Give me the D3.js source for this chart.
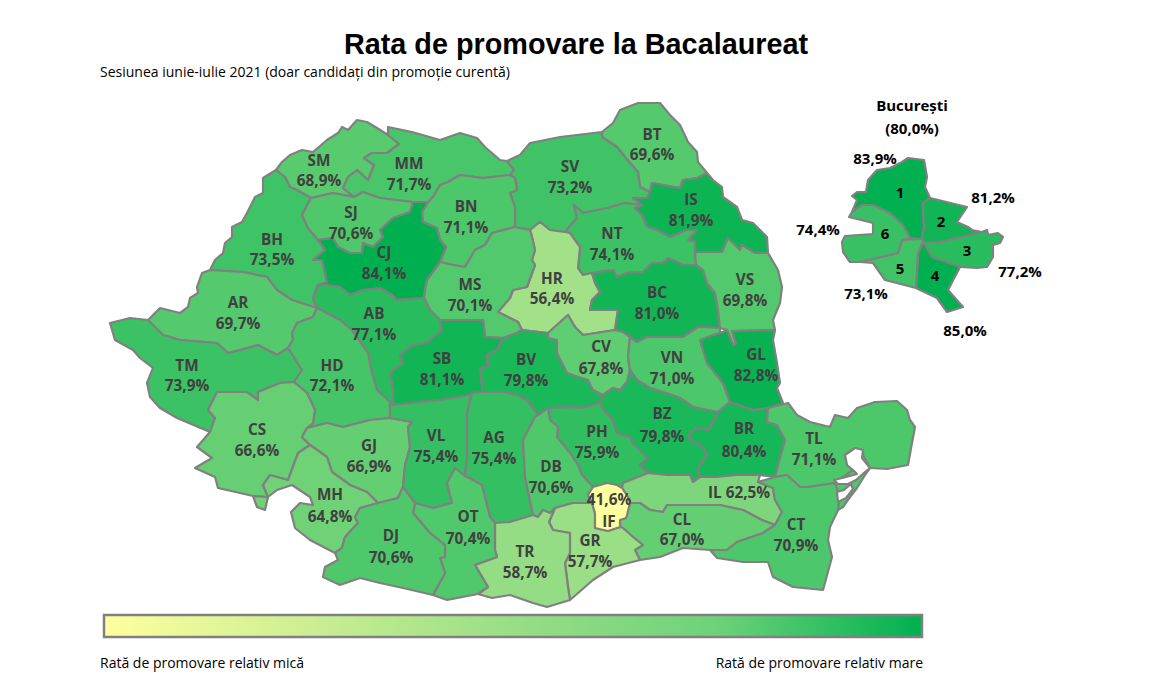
<!DOCTYPE html>
<html>
<head>
<meta charset="utf-8">
<script src="https://cdn.jsdelivr.net/npm/d3@7"></script>
<style>
    body { margin: 0; background: #fff; }
    .county { stroke: #808080; stroke-width: 2.2; stroke-linejoin: round; }
    .code, .rate { font-family: "Open Sans", sans-serif; font-weight: 700; font-size: 15.3px; fill: #404040; text-anchor: middle; dominant-baseline: central; }
    .sector-text { font-family: "Open Sans", sans-serif; font-weight: 700; font-size: 15px; fill: #000; text-anchor: middle; dominant-baseline: central; }
    .note { font-family: "Open Sans", sans-serif; font-size: 14px; fill: #000; }
</style>
</head>
<body>
<svg id="chart" width="1171" height="695"></svg>
<script>
const titleText = "Rata de promovare la Bacalaureat";
const subtitleText = "Sesiunea iunie-iulie 2021 (doar candidați din promoție curentă)";
const legendLow = "Rată de promovare relativ mică";
const legendHigh = "Rată de promovare relativ mare";

const countyCodes = ["BT","SM","MM","SV","IS","BH","SJ","BN","CJ","NT","HR","MS","BC","VS","AR","AB","TM","HD","SB","BV","CV","VN","GL","CS","GJ","VL","AG","PH","DB","BZ","BR","TL","MH","IL","CL","CT","GR","TR","OT","DJ","IF"];
const countyRates = [69.6,68.9,71.7,73.2,81.9,73.5,70.6,71.1,84.1,74.1,56.4,70.1,81.0,69.8,69.7,77.1,73.9,72.1,81.1,79.8,67.8,71.0,82.8,66.6,66.9,75.4,75.4,75.9,70.6,79.8,80.4,71.1,64.8,62.5,67.0,70.9,57.7,58.7,70.4,70.6,41.6];

const sectorNames = ["1","2","3","4","5","6"];
const sectorRates = [83.9,81.2,77.2,85.0,73.1,74.4];
const capitalName = "București";
const capitalRate = 80.0;

const colorDomain = [41.6, 58, 84.1];
const colorRange = ["#ffff9f", "#98de85", "#00b050"];
const legendColors = ["#ffff9f", "#98de85", "#6dd27a", "#00b050"];
const legendOffsets = [0, 0.5, 0.75, 1];

// county outlines
const countyOutlines = {
    BT: [[602,132],[613,123],[620,110],[638,103],[660,103],[670,115],[680,125],[688,142],[697,152],[698,162],[707,173],[697,178],[683,180],[680,188],[652,183],[650,192],[640,187],[638,172],[630,163],[617,147],[602,137]],
    SM: [[276,170],[282,162],[290,155],[302,150],[313,152],[327,140],[338,133],[342,127],[348,130],[357,120],[367,122],[377,128],[388,135],[399,144],[387,153],[372,153],[364,158],[374,165],[368,180],[357,170],[348,177],[343,188],[354,197],[333,193],[311,198],[297,190],[290,187],[285,177]],
    MM: [[388,135],[388,127],[412,132],[440,140],[460,133],[477,138],[485,147],[500,160],[507,161],[514,170],[510,175],[483,178],[460,175],[448,182],[440,185],[433,197],[428,202],[413,202],[380,198],[363,192],[354,197],[343,188],[348,177],[357,170],[368,180],[374,165],[364,158],[372,153],[387,153],[399,144]],
    SV: [[507,161],[520,155],[530,143],[560,137],[602,132],[602,137],[617,147],[630,163],[638,172],[640,187],[650,192],[647,198],[633,198],[642,205],[625,203],[607,208],[583,213],[574,205],[577,218],[565,232],[550,230],[540,222],[530,230],[515,227],[515,207],[510,193],[517,190],[515,178],[510,175],[514,170]],
    IS: [[707,173],[713,180],[722,187],[723,197],[737,207],[742,220],[753,223],[767,237],[768,253],[755,253],[742,245],[740,250],[728,238],[722,252],[695,252],[695,242],[688,240],[697,230],[687,230],[670,237],[657,230],[647,227],[642,215],[635,208],[642,205],[633,198],[647,198],[650,192],[652,183],[680,188],[683,180],[697,178]],
    BH: [[276,170],[263,178],[263,193],[255,197],[247,213],[242,222],[232,227],[232,237],[225,243],[223,253],[215,260],[210,270],[243,272],[267,277],[277,290],[292,300],[317,308],[313,298],[318,285],[327,282],[322,260],[313,260],[325,250],[318,240],[308,228],[302,215],[311,198],[297,190],[290,187],[285,177]],
    SJ: [[311,198],[333,193],[354,197],[363,192],[380,198],[413,202],[410,212],[393,218],[380,230],[383,237],[373,247],[363,243],[362,253],[350,253],[338,247],[333,238],[318,240],[308,228],[302,215]],
    BN: [[510,175],[515,178],[517,190],[510,193],[515,207],[515,227],[492,233],[485,245],[475,250],[465,267],[453,265],[440,262],[446,247],[440,240],[437,228],[423,222],[422,212],[428,202],[433,197],[440,185],[448,182],[460,175],[483,178]],
    CJ: [[413,202],[428,202],[422,212],[423,222],[437,228],[440,240],[446,247],[440,262],[427,280],[425,290],[424,298],[397,300],[392,295],[380,288],[363,290],[350,295],[340,287],[327,285],[318,285],[327,282],[322,260],[313,260],[325,250],[318,240],[333,238],[338,247],[350,253],[362,253],[363,243],[373,247],[383,237],[380,230],[393,218],[410,212]],
    NT: [[574,205],[583,213],[607,208],[625,203],[642,205],[635,208],[642,215],[647,227],[657,230],[670,237],[687,230],[697,230],[688,240],[695,242],[695,252],[696,265],[683,265],[668,258],[663,263],[652,263],[643,272],[627,273],[617,277],[613,270],[592,273],[583,275],[578,268],[580,247],[570,233],[565,232],[577,218]],
    HR: [[530,230],[540,222],[550,230],[565,232],[570,233],[580,247],[578,268],[583,275],[592,273],[595,283],[600,292],[592,300],[590,310],[618,310],[615,330],[583,335],[575,327],[568,315],[548,333],[522,330],[518,322],[498,312],[510,298],[513,290],[527,287],[535,265],[532,260],[535,250],[532,237]],
    MS: [[440,262],[453,265],[465,267],[475,250],[485,245],[492,233],[515,227],[530,230],[532,237],[535,250],[532,260],[535,265],[527,287],[513,290],[510,298],[498,312],[518,322],[522,330],[517,333],[503,338],[485,337],[483,320],[440,320],[430,310],[424,298],[425,290],[427,280]],
    BC: [[592,273],[613,270],[617,277],[627,273],[643,272],[652,263],[663,263],[668,258],[683,265],[696,265],[703,270],[707,283],[715,293],[718,310],[720,328],[698,327],[683,337],[647,337],[637,342],[630,337],[623,332],[615,330],[618,310],[590,310],[592,300],[600,292],[595,283]],
    VS: [[696,265],[695,252],[722,252],[728,238],[740,250],[742,245],[755,253],[768,253],[778,270],[782,287],[780,303],[773,320],[775,330],[732,331],[736,344],[733,345],[727,330],[720,328],[718,310],[715,293],[707,283],[703,270]],
    AR: [[210,270],[202,273],[197,287],[198,293],[190,298],[188,307],[180,313],[160,308],[148,320],[163,335],[180,340],[217,343],[228,353],[240,350],[258,345],[277,355],[288,348],[293,340],[292,333],[297,323],[313,317],[317,308],[292,300],[277,290],[267,277],[243,272]],
    AB: [[318,285],[327,285],[340,287],[350,295],[363,290],[380,288],[392,295],[397,300],[424,298],[430,310],[440,320],[442,330],[427,343],[413,345],[400,355],[403,363],[390,373],[393,390],[393,405],[390,402],[377,390],[372,373],[368,353],[352,330],[340,320],[317,308],[313,298]],
    TM: [[148,320],[130,318],[110,323],[115,340],[133,350],[140,358],[153,368],[147,383],[150,397],[160,408],[177,418],[210,432],[215,418],[208,410],[217,392],[233,392],[247,392],[258,400],[258,392],[280,383],[294,382],[302,370],[297,362],[288,348],[277,355],[258,345],[240,350],[228,353],[217,343],[180,340],[163,335]],
    HD: [[317,308],[340,320],[352,330],[368,353],[372,373],[377,390],[390,402],[390,418],[370,420],[343,427],[327,423],[307,428],[313,423],[315,410],[307,393],[294,382],[302,370],[297,362],[288,348],[293,340],[292,333],[297,323],[313,317]],
    SB: [[440,320],[483,320],[485,337],[503,338],[497,350],[487,355],[488,367],[480,368],[483,392],[470,395],[440,400],[420,402],[393,405],[393,390],[390,373],[403,363],[400,355],[413,345],[427,343],[442,330]],
    BV: [[503,338],[517,333],[522,330],[548,333],[548,338],[557,340],[557,353],[567,373],[588,380],[593,390],[603,395],[600,402],[583,408],[573,407],[548,408],[538,415],[527,400],[517,395],[503,392],[483,392],[480,368],[488,367],[487,355],[497,350]],
    CV: [[548,333],[568,315],[575,327],[583,335],[615,330],[623,332],[630,337],[628,357],[630,370],[627,382],[620,390],[613,388],[603,395],[593,390],[588,380],[567,373],[557,353],[557,340],[548,338]],
    VN: [[630,337],[637,342],[647,337],[683,337],[698,327],[720,328],[720,333],[713,335],[700,340],[707,363],[723,383],[730,402],[718,412],[707,410],[693,407],[680,398],[672,395],[650,388],[637,380],[630,370],[628,357]],
    GL: [[720,333],[727,330],[733,345],[736,344],[732,331],[775,330],[773,340],[777,363],[780,383],[777,388],[783,403],[768,408],[753,410],[730,402],[723,383],[707,363],[700,340],[713,335]],
    CS: [[294,382],[307,393],[315,410],[313,423],[307,428],[302,437],[310,445],[298,453],[288,480],[270,475],[263,485],[268,497],[253,496],[218,488],[215,477],[195,468],[212,458],[197,447],[210,432],[215,418],[208,410],[217,392],[233,392],[247,392],[258,400],[258,392],[280,383]],
    GJ: [[307,428],[327,423],[343,427],[370,420],[390,418],[412,422],[408,427],[410,447],[405,465],[403,487],[398,498],[378,503],[367,492],[350,485],[332,472],[327,457],[310,445],[302,437]],
    VL: [[393,405],[420,402],[440,400],[470,395],[472,393],[467,413],[467,460],[465,476],[455,468],[447,483],[452,503],[433,508],[415,503],[403,487],[405,465],[410,447],[408,427],[412,422],[390,418],[390,402]],
    AG: [[472,393],[483,392],[503,392],[517,395],[527,400],[538,415],[535,417],[523,440],[525,477],[533,515],[510,522],[495,523],[490,517],[482,485],[473,480],[465,476],[467,460],[467,413]],
    PH: [[548,408],[573,407],[583,408],[600,402],[602,408],[613,420],[617,433],[630,437],[633,443],[648,458],[640,465],[648,473],[623,483],[622,488],[617,485],[607,483],[593,487],[582,475],[578,465],[570,453],[557,437],[558,427],[550,420]],
    DB: [[538,415],[548,408],[550,420],[558,427],[557,437],[570,453],[578,465],[582,475],[593,487],[588,495],[592,503],[573,503],[555,508],[550,513],[543,510],[538,517],[533,515],[525,477],[523,440],[535,417]],
    BZ: [[603,395],[613,388],[620,390],[627,382],[630,370],[637,380],[650,388],[672,395],[680,398],[693,407],[707,410],[718,412],[713,423],[708,430],[695,428],[688,437],[695,443],[703,447],[707,455],[698,468],[700,477],[693,482],[690,475],[667,475],[648,473],[640,465],[648,458],[633,443],[630,437],[617,433],[613,420],[602,408],[600,402]],
    BR: [[718,412],[730,402],[753,410],[768,408],[767,422],[777,425],[785,440],[778,465],[775,477],[760,475],[737,475],[717,477],[700,477],[698,468],[707,455],[703,447],[695,443],[688,437],[695,428],[708,430],[713,423]],
    TL: [[768,408],[788,403],[797,415],[810,422],[830,427],[835,415],[848,418],[857,408],[875,402],[897,401],[907,410],[910,420],[915,427],[912,443],[908,465],[887,469],[870,468],[863,455],[863,450],[855,448],[845,455],[847,465],[853,470],[850,477],[835,483],[808,487],[800,487],[787,475],[775,477],[778,465],[785,440],[777,425],[767,422]],
    MH: [[310,445],[327,457],[332,472],[350,485],[367,492],[378,503],[360,508],[355,517],[358,523],[345,537],[342,548],[335,553],[310,540],[295,528],[291,512],[300,503],[313,505],[310,497],[292,485],[277,490],[268,497],[265,510],[257,507],[253,496],[268,497],[263,485],[270,475],[288,480],[298,453]],
    IL: [[623,483],[648,473],[667,475],[690,475],[693,482],[700,477],[717,477],[737,475],[760,475],[758,482],[773,488],[775,500],[782,512],[775,525],[762,520],[743,510],[720,505],[690,505],[667,505],[663,512],[650,510],[640,503],[630,503],[628,497],[622,488]],
    CL: [[620,527],[620,520],[626,518],[627,515],[630,503],[640,503],[650,510],[663,512],[667,505],[690,505],[720,505],[743,510],[762,520],[775,525],[763,533],[737,542],[727,550],[710,550],[683,548],[660,557],[640,560],[635,550],[643,545],[633,537],[623,528]],
    CT: [[775,477],[758,482],[773,488],[775,500],[782,512],[775,525],[763,533],[737,542],[727,550],[710,550],[717,558],[743,562],[768,562],[773,577],[793,587],[823,590],[832,557],[828,540],[830,527],[838,510],[840,497],[835,483],[808,487],[800,487],[787,475]],
    GR: [[592,503],[595,513],[595,528],[608,531],[620,527],[623,528],[633,537],[643,545],[635,550],[640,560],[613,567],[593,580],[570,600],[568,587],[565,563],[570,553],[570,533],[553,530],[549,522],[555,508],[573,503]],
    TR: [[495,523],[510,522],[533,515],[538,517],[543,510],[550,513],[555,508],[549,522],[553,530],[570,533],[570,553],[565,563],[568,587],[570,600],[547,607],[533,603],[510,595],[492,598],[478,594],[488,587],[475,565],[497,557],[495,550]],
    OT: [[415,503],[433,508],[452,503],[447,483],[455,468],[465,476],[473,480],[482,485],[490,517],[495,523],[495,550],[497,557],[475,565],[488,587],[478,594],[447,600],[433,595],[445,573],[440,558],[445,557],[445,545],[430,533],[413,513]],
    DJ: [[378,503],[398,498],[403,487],[415,503],[413,513],[430,533],[445,545],[445,557],[440,558],[445,573],[433,595],[403,588],[380,583],[360,578],[340,585],[323,577],[325,567],[338,560],[335,553],[342,548],[345,537],[358,523],[355,517],[360,508]],
    IF: [[593,487],[607,483],[617,485],[622,488],[628,497],[630,503],[627,515],[626,518],[620,520],[620,527],[608,531],[595,528],[595,513],[592,503],[588,495]]
};

// Danube delta coast and the two lagoons sitting on it
const deltaStrip = [[835,483],[853,470],[870,468],[865,475],[857,488],[850,497],[843,507],[838,510],[840,497]];
const lagoons = [
    [[845,455],[847,465],[853,470],[857,474],[846,477],[834,480],[838,484],[848,484],[856,480],[865,472],[870,468],[862,458],[863,450],[855,448]],
    [[837,492],[838,502],[846,498],[853,489],[851,484],[844,490]]
];

const sectorOutlines = {
    "1": [[924,160],[908,158],[902,162],[890,168],[877,170],[868,180],[866,192],[857,192],[852,196],[857,200],[852,212],[862,205],[873,205],[890,213],[903,225],[910,238],[922,239],[924,227],[923,213],[923,203],[930,198],[925,187],[927,177]],
    "2": [[930,198],[967,207],[957,222],[968,227],[972,230],[982,232],[957,238],[940,242],[923,242],[922,239],[924,227],[923,213],[923,203]],
    "3": [[923,242],[940,242],[957,238],[982,232],[987,230],[988,235],[998,233],[1003,237],[1000,243],[993,245],[993,257],[987,267],[977,268],[960,267],[932,257]],
    "4": [[923,242],[932,257],[960,267],[948,290],[963,307],[947,312],[937,298],[920,290],[916,288],[918,253]],
    "5": [[922,239],[902,240],[898,253],[860,262],[873,263],[885,280],[916,288],[918,253],[923,242]],
    "6": [[852,212],[849,217],[873,223],[873,234],[845,236],[842,242],[843,252],[850,262],[860,262],[898,253],[902,240],[910,238],[903,225],[890,213],[873,205],[862,205]]
};

// where the two text lines sit for each county (x, code line y, rate line y)
const countyLabelAt = {
    BT:[652,134,154],SM:[319,160,180],MM:[409,163,184],SV:[570,166,187],IS:[691,199,220],BH:[272,239,259],SJ:[351,212,233],BN:[466,206,227],CJ:[384,252,273],NT:[612,233,254],
    HR:[552,278,298],MS:[470,284,305],BC:[657,292,313],VS:[745,279,300],AR:[238,302,323],AB:[374,313,334],TM:[187,365,385],HD:[332,365,385],SB:[442,358,379],BV:[526,359,380],
    CV:[601,346,368],VN:[672,357,378],GL:[756,354,375],CS:[257,429,450],GJ:[369,445,466],VL:[436,435,456],AG:[494,437,458],PH:[597,431,452],DB:[551,466,487],BZ:[662,413,436],
    BR:[744,428,451],TL:[814,438,459],MH:[330,494,516],CL:[682,519,539],CT:[796,524,545],GR:[590,540,561],TR:[525,551,572],OT:[468,516,538],DJ:[391,535,557]
};
const sectorNumberAt = {"1":[900,192],"2":[941,221],"3":[967,250],"4":[935,275],"5":[900,268],"6":[885,233]};
const sectorRateAt = {"1":[875,158],"2":[993,197],"3":[1020,271],"4":[965,330],"5":[866,293],"6":[818,229]};

const svg = d3.select("#chart");
const color = d3.scaleLinear().domain(colorDomain).range(colorRange).clamp(true);
const comma = v => d3.format(".1f")(v).replace(".", ",") + "%";
const path = d3.geoPath(d3.geoIdentity());
const toFeature = ring => ({ type: "Feature", geometry: { type: "Polygon", coordinates: [ring.concat([ring[0]])] } });

svg.append("text")
    .attr("x", 576).attr("y", 54)
    .attr("text-anchor", "middle")
    .style("font-family", "'Liberation Sans', Arial, sans-serif")
    .style("font-weight", 700).style("font-size", "28.8px")
    .text(titleText);

svg.append("text").attr("class", "note").attr("x", 100).attr("y", 77).text(subtitleText);

// counties
const rateByCode = new Map(countyCodes.map((c, i) => [c, countyRates[i]]));
svg.append("g").selectAll("path")
    .data(countyCodes)
    .enter().append("path")
    .attr("class", "county")
    .attr("d", c => path(toFeature(countyOutlines[c])))
    .attr("fill", c => color(rateByCode.get(c)));

svg.append("path").attr("class", "county")
    .attr("d", path(toFeature(deltaStrip)))
    .attr("fill", color(rateByCode.get("CT")));
svg.append("g").selectAll("path")
    .data(lagoons)
    .enter().append("path")
    .attr("class", "county")
    .attr("d", d => path(toFeature(d)))
    .attr("fill", "#fff");

const labels = svg.append("g");
countyCodes.filter(c => countyLabelAt[c]).forEach(c => {
    const [x, y1, y2] = countyLabelAt[c];
    labels.append("text").attr("class", "code").attr("x", x).attr("y", y1).text(c);
    labels.append("text").attr("class", "rate").attr("x", x).attr("y", y2).text(comma(rateByCode.get(c)));
});
labels.append("text").attr("class", "rate").attr("x", 739).attr("y", 492).text("IL " + comma(rateByCode.get("IL")));
labels.append("text").attr("class", "rate").attr("x", 609).attr("y", 499).text(comma(rateByCode.get("IF")));
labels.append("text").attr("class", "code").attr("x", 609).attr("y", 521).text("IF");

// Bucharest sectors
const rateBySector = new Map(sectorNames.map((s, i) => [s, sectorRates[i]]));
svg.append("g").selectAll("path")
    .data(sectorNames)
    .enter().append("path")
    .attr("class", "county")
    .attr("d", s => path(toFeature(sectorOutlines[s])))
    .attr("fill", s => color(rateBySector.get(s)));

sectorNames.forEach(s => {
    svg.append("text").attr("class", "sector-text").attr("x", sectorNumberAt[s][0]).attr("y", sectorNumberAt[s][1]).text(s);
    svg.append("text").attr("class", "sector-text").attr("x", sectorRateAt[s][0]).attr("y", sectorRateAt[s][1]).text(comma(rateBySector.get(s)));
});
svg.append("text").attr("class", "sector-text").attr("x", 912).attr("y", 105).text(capitalName);
svg.append("text").attr("class", "sector-text").attr("x", 912).attr("y", 128).text("(" + comma(capitalRate) + ")");

// legend bar
const grad = svg.append("defs").append("linearGradient").attr("id", "legendGrad");
grad.selectAll("stop")
    .data(legendColors)
    .enter().append("stop")
    .attr("offset", (d, i) => legendOffsets[i])
    .attr("stop-color", d => d);

svg.append("rect")
    .attr("x", 104).attr("y", 615).attr("width", 818).attr("height", 22)
    .attr("fill", "url(#legendGrad)")
    .attr("stroke", "#808080").attr("stroke-width", 2.5);

svg.append("text").attr("class", "note").attr("x", 100).attr("y", 668).text(legendLow);
svg.append("text").attr("class", "note").attr("x", 923).attr("y", 668).attr("text-anchor", "end").text(legendHigh);
</script>
</body>
</html>
